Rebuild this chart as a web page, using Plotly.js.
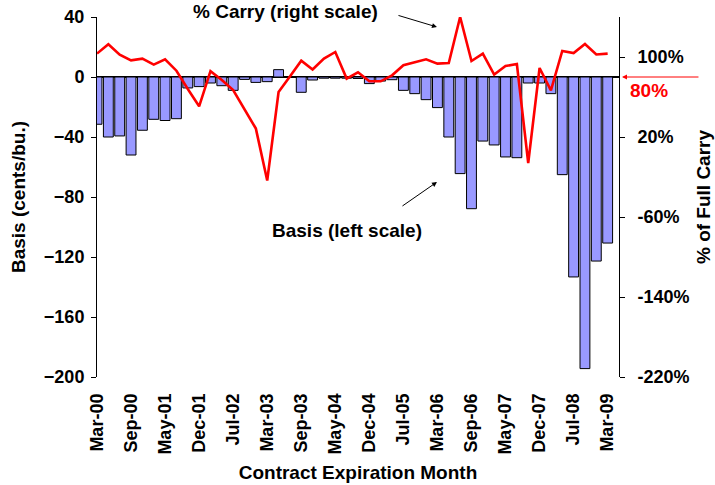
<!DOCTYPE html>
<html>
<head>
<meta charset="utf-8">
<script src="https://cdn.plot.ly/plotly-3.0.1.min.js"></script>
<style>
  html, body { margin: 0; padding: 0; background: #ffffff; }
  #chart { width: 715px; height: 485px; }
</style>
</head>
<body>
<div id="chart"></div>
<script>
// Contract expiration months (Mar, May, Jul, Sep, Dec)
const contracts = [
  'Mar-00','May-00','Jul-00','Sep-00','Dec-00',
  'Mar-01','May-01','Jul-01','Sep-01','Dec-01',
  'Mar-02','May-02','Jul-02','Sep-02','Dec-02',
  'Mar-03','May-03','Jul-03','Sep-03','Dec-03',
  'Mar-04','May-04','Jul-04','Sep-04','Dec-04',
  'Mar-05','May-05','Jul-05','Sep-05','Dec-05',
  'Mar-06','May-06','Jul-06','Sep-06','Dec-06',
  'Mar-07','May-07','Jul-07','Sep-07','Dec-07',
  'Mar-08','May-08','Jul-08','Sep-08','Dec-08',
  'Mar-09'
];
// Axis runs one contract further (empty slot at the right edge)
const axisCategories = contracts.concat(['May-09']);

// Basis (cents/bu.), left scale
const basis = [
  -31.5, -40, -39.3, -52, -35.5,
  -28.2, -29, -27.8, -7.3, -6.4,
  -4, -5.8, -8.9, -1.6, -3.6,
  -3.1, 4.9, -0.3, -10.2, -2,
  -0.8, -0.8, -0.8, -1, -4.4,
  -2.7, -1.8, -8.9, -11.1, -15.1,
  -20.4, -40, -64.4, -87.8, -42.7,
  -45.3, -53.3, -53.8, -4, -4,
  -11.1, -65.1, -133.3, -194.4, -122.7,
  -110.7
];

// % of full carry, right scale
const carry = [
  103.4, 112.7, 102.4, 96.7, 98.4,
  92.4, 97.7, 86.3, 68, 50.7,
  85.8, 77, 67, 48, 28.4,
  -23.5, 65, 80.5, 96.3, 87.5,
  98.4, 105, 78.4, 84.7, 75.7,
  75.7, 81.7, 91.7, 95, 97.7,
  93.4, 94, 140, 96, 103.4,
  82.5, 91, 93, -6, 89,
  66.7, 106, 104, 113, 102.5,
  103.4
];

const leftTicks = [-200, -160, -120, -80, -40, 0, 40];
const rightTicks = [-220, -140, -60, 20, 100];
const rightTickText = rightTicks.map(v => v + '%');

const FONT = '"Liberation Sans", Arial, sans-serif';
const tickFont = { family: FONT, size: 18, color: '#000000', weight: 'bold' };
const titleFont = { family: FONT, size: 19, color: '#000000', weight: 'bold' };
const noteFont = { family: FONT, size: 19, color: '#000000', weight: 'bold' };

const traces = [
  {
    type: 'bar',
    name: 'Basis (left scale)',
    x: contracts,
    y: basis,
    width: 0.87,
    marker: { color: '#9999FF', line: { color: '#000000', width: 1 } },
    xaxis: 'x',
    yaxis: 'y',
    hoverinfo: 'x+y'
  },
  {
    type: 'scatter',
    mode: 'lines',
    name: '% Carry (right scale)',
    x: contracts,
    y: carry,
    line: { color: '#FF0000', width: 2.6 },
    xaxis: 'x',
    yaxis: 'y2',
    hoverinfo: 'x+y'
  }
];

const layout = {
  width: 715,
  height: 485,
  margin: { l: 97, r: 96, t: 17, b: 108, pad: 0 },
  paper_bgcolor: '#ffffff',
  plot_bgcolor: '#ffffff',
  showlegend: false,
  bargap: 0,
  xaxis: {
    type: 'category',
    categoryorder: 'array',
    categoryarray: axisCategories,
    range: [0, axisCategories.length - 1],
    tickmode: 'linear',
    tick0: 0,
    dtick: 3,
    tickangle: -90,
    ticks: '',
    showline: false,
    showgrid: false,
    zeroline: false,
    tickfont: tickFont,
    ticklabelstandoff: 12,
    title: { text: 'Contract Expiration Month', font: titleFont, standoff: 12 },
    automargin: false
  },
  xaxis2: {
    type: 'category',
    categoryorder: 'array',
    categoryarray: axisCategories,
    range: [0, axisCategories.length - 1],
    overlaying: 'x',
    anchor: 'free',
    position: 200 / 240,
    side: 'bottom',
    tickmode: 'linear',
    tick0: 0,
    dtick: 5,
    ticks: 'outside',
    ticklen: 4,
    tickwidth: 1,
    tickcolor: '#A0A0A0',
    showticklabels: false,
    showline: false,
    showgrid: false,
    zeroline: false
  },
  yaxis: {
    range: [-200, 40],
    tickmode: 'array',
    tickvals: leftTicks,
    ticks: 'outside',
    ticklen: 5,
    tickwidth: 1,
    tickcolor: '#000000',
    showline: true,
    linecolor: '#000000',
    linewidth: 1,
    showgrid: false,
    zeroline: true,
    zerolinecolor: '#000000',
    zerolinewidth: 2,
    tickfont: tickFont,
    ticklabelstandoff: 3,
    title: { text: 'Basis (cents/bu.)', font: titleFont, standoff: 13 },
    automargin: false
  },
  yaxis2: {
    overlaying: 'y',
    side: 'right',
    range: [-220, 140],
    tickmode: 'array',
    tickvals: rightTicks,
    ticktext: rightTickText,
    ticks: 'outside',
    ticklen: 5,
    tickwidth: 1,
    tickcolor: '#000000',
    showline: true,
    linecolor: '#000000',
    linewidth: 1,
    showgrid: false,
    zeroline: false,
    tickfont: tickFont,
    ticklabelstandoff: 9,
    title: { text: '% of Full Carry', font: titleFont, standoff: 8 },
    automargin: false
  },
  annotations: [
    {
      xref: 'paper', yref: 'paper', x: 0.362, y: 1.014,
      text: '% Carry (right scale)', showarrow: false,
      xanchor: 'center', yanchor: 'middle',
      font: noteFont
    },
    {
      xref: 'paper', yref: 'paper', x: 0.6513, y: 0.9722,
      text: '', showarrow: true, ax: -40, ay: -12,
      arrowhead: 2, arrowsize: 1, arrowwidth: 1, arrowcolor: '#000000'
    },
    {
      xref: 'paper', yref: 'paper', x: 0.479, y: 0.4083,
      text: 'Basis (left scale)', showarrow: false,
      xanchor: 'center', yanchor: 'middle',
      font: noteFont
    },
    {
      xref: 'paper', yref: 'paper', x: 0.6513, y: 0.5417,
      text: '', showarrow: true, ax: -36, ay: 25,
      arrowhead: 2, arrowsize: 1, arrowwidth: 1, arrowcolor: '#000000'
    },
    {
      xref: 'paper', yref: 'paper', x: 1.0575, y: 0.797,
      text: '80%', showarrow: false,
      xanchor: 'center', yanchor: 'middle',
      font: { family: FONT, size: 19, color: '#FF0000', weight: 'bold' }
    },
    {
      xref: 'paper', yref: 'paper', x: 1.0057, y: 200 / 240,
      text: '', showarrow: true, ax: 78, ay: 0,
      arrowhead: 2, arrowsize: 1, arrowwidth: 1, arrowcolor: '#FF0000'
    }
  ]
};

Plotly.newPlot('chart', traces, layout, { displayModeBar: false, staticPlot: true });
</script>
</body>
</html>
